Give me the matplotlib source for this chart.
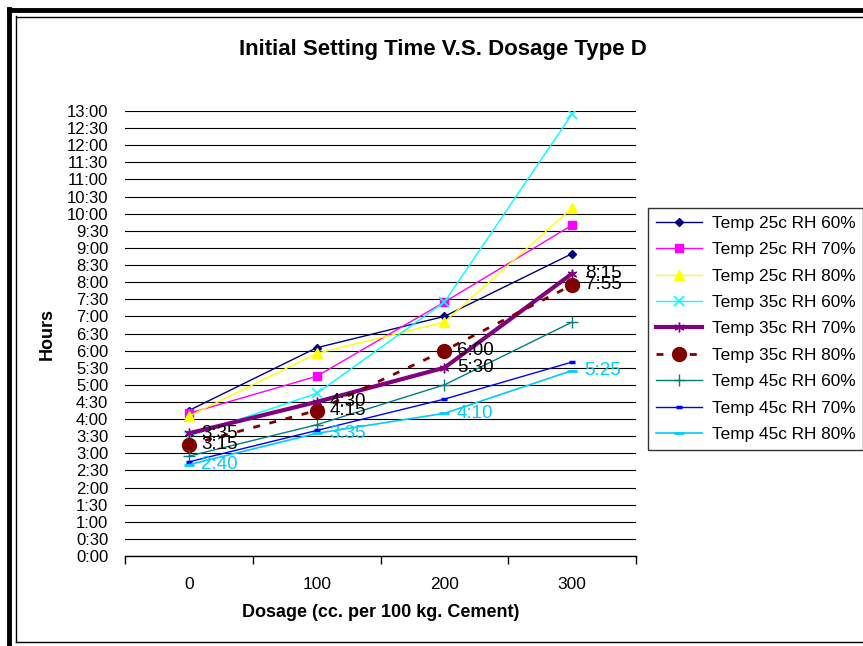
import matplotlib.pyplot as plt
from matplotlib.lines import Line2D

plt.rcParams['font.family'] = ['Liberation Sans', 'DejaVu Sans']

# dosage (cc. per 100 kg. cement) and setting time in hours
dosage = [0, 100, 200, 300]
t25_rh60 = [4.25, 6.083, 7.0, 8.833]
t25_rh70 = [4.167, 5.25, 7.417, 9.667]
t25_rh80 = [4.083, 5.917, 6.833, 10.167]
t35_rh60 = [3.5, 4.75, 7.417, 12.917]
t35_rh70 = [3.583, 4.5, 5.5, 8.25]
t35_rh80 = [3.25, 4.25, 6.0, 7.917]
t45_rh60 = [2.917, 3.833, 5.0, 6.833]
t45_rh70 = [2.75, 3.667, 4.583, 5.667]
t45_rh80 = [2.667, 3.583, 4.167, 5.417]

labels_35_70 = ['3:35', '4:30', '5:30', '8:15']
labels_35_80 = ['3:15', '4:15', '6:00', '7:55']
labels_45_80 = ['2:40', '3:35', '4:10', '5:25']


def hm(v):
    h = int(v)
    m = int(round((v - h) * 60))
    return '%d:%02d' % (h, m)


fig = plt.figure(figsize=(8.63, 6.46), dpi=100)
ax = fig.add_axes([125 / 863, 90 / 646, 511 / 863, 445 / 646])

ax.plot(dosage, t25_rh60, color='#000080', lw=1, marker='D', ms=4, label='Temp 25c RH 60%')
ax.plot(dosage, t25_rh70, color='#FF00FF', lw=1, marker='s', ms=6, label='Temp 25c RH 70%')
ax.plot(dosage, t25_rh80, color='#FFFF00', lw=1, marker='^', ms=7, label='Temp 25c RH 80%')
ax.plot(dosage, t35_rh60, color='#00FFFF', lw=1, marker='x', ms=7, mew=1.2, label='Temp 35c RH 60%')
ax.plot(dosage, t35_rh70, color='#800080', lw=3, marker=(6, 2, 0), ms=7, mew=1, label='Temp 35c RH 70%')
ax.plot(dosage, t35_rh80, color='#800000', lw=2, ls=(0, (2.5, 3.5)), marker='o', ms=10, label='Temp 35c RH 80%')
ax.plot(dosage, t45_rh60, color='#008080', lw=1, marker='+', ms=8, mew=1, label='Temp 45c RH 60%')
ax.plot(dosage, t45_rh70, color='#0000FF', lw=1, marker='_', ms=5, mew=2.5, label='Temp 45c RH 70%')
ax.plot(dosage, t45_rh80, color='#00CCFF', lw=1.2, marker='_', ms=7, mew=2, label='Temp 45c RH 80%')

for x, y, s in zip(dosage, t35_rh70, labels_35_70):
    ax.annotate(s, (x, y), xytext=(9, 0), textcoords='offset points', va='center',
                fontsize=13.5, color='black')
for x, y, s in zip(dosage, t35_rh80, labels_35_80):
    ax.annotate(s, (x, y), xytext=(9, 0), textcoords='offset points', va='center',
                fontsize=13.5, color='black')
for x, y, s in zip(dosage, t45_rh80, labels_45_80):
    ax.annotate(s, (x, y), xytext=(9, 0), textcoords='offset points', va='center',
                fontsize=13.5, color='#00CCFF')

ax.set_xlim(-50, 350)
ax.set_ylim(0, 13)
yt = [i * 0.5 for i in range(27)]
ax.set_yticks(yt)
ax.set_yticklabels([hm(v) for v in yt], fontsize=12)
ax.set_xticks(dosage)
ax.set_xticklabels([str(d) for d in dosage], fontsize=12.5)
ax.set_xticks([-50, 50, 150, 250, 350], minor=True)
ax.tick_params(axis='x', which='major', length=0, pad=15)
ax.tick_params(axis='x', which='minor', length=6, direction='out', width=1)
ax.tick_params(axis='y', length=0, pad=12)
ax.yaxis.grid(True, color='black', lw=0.8)
ax.set_axisbelow(True)
for sp in ['top', 'right', 'left']:
    ax.spines[sp].set_visible(False)
ax.spines['bottom'].set_linewidth(1)

ax.set_xlabel('Dosage (cc. per 100 kg. Cement)', fontsize=13, fontweight='bold', labelpad=9)
ax.set_ylabel('Hours', fontsize=13, fontweight='bold', labelpad=8)

fig.text(443 / 863, 1 - 50 / 646, 'Initial Setting Time V.S. Dosage Type D',
         ha='center', va='center', fontsize=16, fontweight='bold')

leg = ax.legend(loc='upper left', bbox_to_anchor=(648 / 863, 1 - 208 / 646),
                bbox_transform=fig.transFigure, fontsize=12.4, frameon=True,
                fancybox=False, edgecolor='black', handlelength=2.7,
                labelspacing=0.66, borderpad=0.45, handletextpad=0.55, borderaxespad=0)
leg.get_frame().set_linewidth(1)

# outer frame lines
W, H = 863.0, 646.0
fig.add_artist(Line2D([9 / W, 9 / W], [0, 1 - 9 / H], color='black', lw=3.5, transform=fig.transFigure))
fig.add_artist(Line2D([9 / W, 1], [1 - 10 / H, 1 - 10 / H], color='black', lw=3.5, transform=fig.transFigure))
fig.add_artist(Line2D([16 / W, 16 / W], [1 - 16 / H, 1 - 642 / H], color='black', lw=1, transform=fig.transFigure))
fig.add_artist(Line2D([16 / W, 1], [1 - 16.5 / H, 1 - 16.5 / H], color='black', lw=1, transform=fig.transFigure))
fig.add_artist(Line2D([16 / W, 1], [1 - 642 / H, 1 - 642 / H], color='black', lw=1, transform=fig.transFigure))

fig.savefig('out.png', dpi=100)
